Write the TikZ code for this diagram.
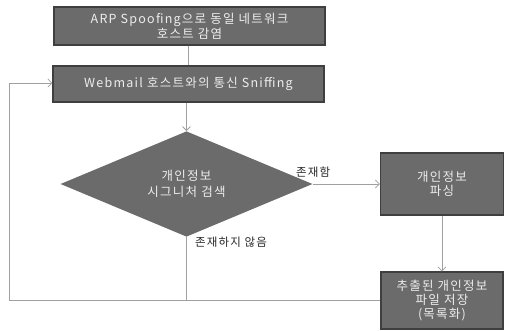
\documentclass[tikz,border=0pt]{standalone}
\usepackage{fontspec}
\setmainfont{Noto Sans CJK KR}[LetterSpace=10]
\usetikzlibrary{shapes.geometric,arrows.meta}
\definecolor{boxfill}{HTML}{6B6B6B}
\definecolor{boxdraw}{HTML}{3F3F3F}
\definecolor{linecol}{HTML}{A0A0A0}
\definecolor{boxtext}{HTML}{EDEDED}
\definecolor{labtext}{HTML}{2A2A2A}
\tikzset{
  procbox/.style={draw=boxdraw, fill=boxfill, line width=1.2pt, text=boxtext, align=center,
    inner sep=0pt, font=\fontsize{12.5}{14.5}\selectfont},
  decbox/.style={diamond, fill=boxfill, draw=none, text=boxtext, align=center, inner sep=0pt,
    minimum width=252pt, minimum height=100pt, font=\fontsize{12.5}{16}\selectfont},
  conn/.style={draw=linecol, line width=0.9pt},
  arr/.style={conn, -{Straight Barb[length=4pt,width=8pt,line width=0.8pt]}},
  lab/.style={text=labtext, font=\fontsize{11.5}{14}\selectfont, inner sep=0pt}
}
\begin{document}
\begin{tikzpicture}[x=1pt,y=-1pt]
\useasboundingbox[fill=white] (0,0) rectangle (505,331);
\node[procbox, minimum width=271pt, minimum height=38pt] (b1) at (189.5,26) {ARP Spoofing으로 동일 네트워크\\호스트 감염};
\node[procbox, minimum width=271pt, minimum height=36pt] (b2) at (188.5,84) {Webmail 호스트와의 통신 Sniffing};
\node[decbox] (d) at (186.5,184) {개인정보\\시그니처 검색};
\node[procbox, minimum width=123pt, minimum height=62pt] (b3) at (442,184) {개인정보\\파싱};
\node[procbox, minimum width=122pt, minimum height=57pt, font=\fontsize{12.5}{14}\selectfont] (b4) at (442,300.5) {추출된 개인정보\\파일 저장\\(목록화)};
\coordinate (cl) at (9,300.5);
\coordinate (cb) at (d.south |- cl);
\coordinate (ct) at (9,83);
\draw[conn] (b1.south -| b2.north) -- (b2.north);
\draw[arr] (b2.south -| d.north) -- (d.north);
\draw[arr] (d.east) -- (b3.west);
\draw[arr] (b3.south) -- (b4.north);
\draw[conn] (d.south) -- (cb);
\draw[arr] (b4.west) -- (cl) -- (ct) -- (b2.west |- ct);
\node[lab, anchor=west] (l1) at (296,172) {존재함};
\node[lab, anchor=west] (l2) at (195,242) {존재하지 않음};
\end{tikzpicture}
\end{document}
